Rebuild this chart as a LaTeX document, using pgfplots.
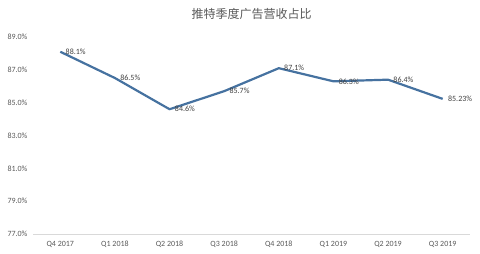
\documentclass[border=0pt]{standalone}
\usepackage{pgfplots}
\pgfplotsset{compat=1.18}
\usepackage{fontspec}
\setmainfont{Carlito}
\newfontfamily\cjk{Noto Sans CJK SC}
\definecolor{linec}{RGB}{70,114,160}
\definecolor{txt}{RGB}{89,89,89}
\definecolor{gridc}{RGB}{217,217,217}
\begin{document}
\begin{tikzpicture}
\path[use as bounding box] (-33pt,-20pt) rectangle (447pt,234pt);
\begin{axis}[
  at={(0,0)}, anchor=south west,
  scale only axis, width=437pt, height=197pt,
  xmin=-0.5, xmax=7.5, ymin=77, ymax=89,
  axis line style={draw=none},
  axis x line*=bottom, axis y line*=left,
  xtick={0,...,7},
  xticklabels={Q4 2017,Q1 2018,Q2 2018,Q3 2018,Q4 2018,Q1 2019,Q2 2019,Q3 2019},
  ytick={77,79,...,89},
  yticklabel={\pgfmathprintnumber[fixed,fixed zerofill,precision=1]{\tick}\%},
  /pgf/number format/assume math mode=true,
  major tick length=0pt,
  tick label style={font=\fontsize{8}{9}\selectfont, text=txt},
  xticklabel style={yshift=-4pt},
  yticklabel style={xshift=-2pt},
  clip=false,
  title={\cjk\fontsize{12}{14}\selectfont 推特季度广告营收占比},
  title style={text=txt, yshift=8pt},
  point meta=explicit symbolic,
  nodes near coords={\pgfplotspointmeta\%},
  nodes near coords style={anchor=west, xshift=1pt, font=\fontsize{8}{9}\selectfont, text={rgb,255:red,64;green,64;blue,64}},
]
\draw[gridc, line width=0.8pt] (axis cs:-0.5,77) -- (axis cs:7.5,77);
\addplot[linec, line width=2.2pt, line join=round] coordinates {
 (0,88.1) [88.1]
 (1,86.5) [86.5]
 (2,84.6) [84.6]
 (3,85.7) [85.7]
 (4,87.1) [87.1]
 (5,86.3) [86.3]
 (6,86.4) [86.4]
 (7,85.23) [85.23]
};
\end{axis}
\end{tikzpicture}
\end{document}
